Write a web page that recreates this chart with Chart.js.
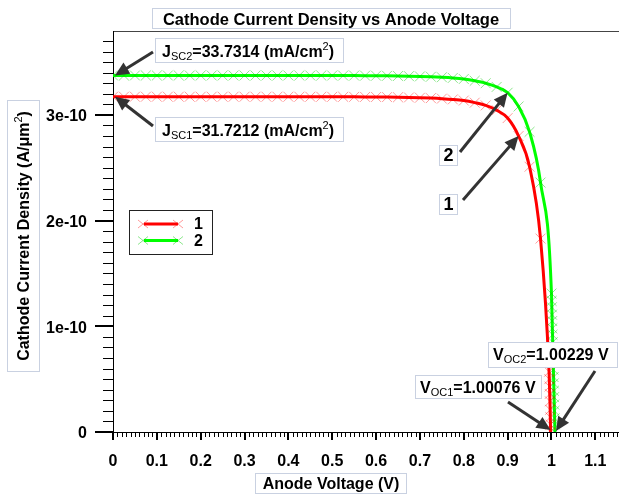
<!DOCTYPE html>
<html><head><meta charset="utf-8">
<script src="https://cdn.jsdelivr.net/npm/chart.js@4/dist/chart.umd.min.js"></script>
<style>html,body{margin:0;padding:0;background:#fff;}#wrap{width:619px;height:495px;}</style>
</head><body><div id="wrap"><canvas id="c" width="619" height="495"></canvas></div>
<script>
// ---------- data ----------
const seriesLabels = ['1', '2'];
const voltage1 = [0,0.025,0.05,0.075,0.1,0.125,0.15,0.175,0.2,0.225,0.25,0.275,0.3,0.325,0.35,0.375,0.4,0.425,0.45,0.475,0.5,0.525,0.55,0.575,0.6,0.625,0.65,0.675,0.7,0.725,0.75,0.775,0.8,0.825,0.85,0.875,0.9,0.925,0.95,0.975,
  0.9945,0.995,0.9955,0.996,0.9965,0.997,0.9973,0.9977,0.998];
const current1 = [3.1721e-10,3.1721e-10,3.1721e-10,3.1721e-10,3.1721e-10,3.1721e-10,3.1721e-10,3.1721e-10,3.1721e-10,3.1721e-10,3.1721e-10,3.1721e-10,3.1721e-10,3.1721e-10,3.1721e-10,3.1721e-10,3.1721e-10,
  3.1720e-10,3.1719e-10,3.1717e-10,3.1715e-10,3.1712e-10,3.1708e-10,3.1703e-10,3.1696e-10,3.1686e-10,3.1672e-10,3.1653e-10,3.1627e-10,3.1590e-10,3.1540e-10,3.1470e-10,3.1360e-10,3.1160e-10,3.0900e-10,3.0450e-10,2.9700e-10,2.8000e-10,2.5100e-10,1.8300e-10,
  0.57e-10,0.50e-10,0.43e-10,0.36e-10,0.29e-10,0.21e-10,0.14e-10,0.07e-10,0];
const voltage2 = [0,0.025,0.05,0.075,0.1,0.125,0.15,0.175,0.2,0.225,0.25,0.275,0.3,0.325,0.35,0.375,0.4,0.425,0.45,0.475,0.5,0.525,0.55,0.575,0.6,0.625,0.65,0.675,0.7,0.725,0.75,0.775,0.8,0.825,0.85,0.875,0.9,0.925,0.95,0.975,
  1.0,1.0004,1.0008,1.0012,1.0016,1.002,1.0024,1.0028,1.0032,1.0036,1.004,1.0044,1.0048,1.0052,1.0056,1.006,1.0064,1.0068,1.0072,1.0076,1.008];
const current2 = [3.3731e-10,3.3731e-10,3.3731e-10,3.3731e-10,3.3731e-10,3.3731e-10,3.3731e-10,3.3731e-10,3.3731e-10,3.3731e-10,3.3731e-10,3.3731e-10,3.3731e-10,3.3731e-10,3.3731e-10,3.3731e-10,3.3731e-10,
  3.3730e-10,3.3729e-10,3.3728e-10,3.3726e-10,3.3723e-10,3.3719e-10,3.3714e-10,3.3707e-10,3.3698e-10,3.3685e-10,3.3668e-10,3.3645e-10,3.3612e-10,3.3565e-10,3.3500e-10,3.3400e-10,3.3230e-10,3.3000e-10,3.2650e-10,3.2100e-10,3.0800e-10,2.8400e-10,2.3600e-10,
  1.31e-10,1.24e-10,1.18e-10,1.11e-10,1.05e-10,0.98e-10,0.92e-10,0.85e-10,0.79e-10,0.72e-10,0.66e-10,0.59e-10,0.52e-10,0.46e-10,0.39e-10,0.33e-10,0.26e-10,0.20e-10,0.13e-10,0.07e-10,0];
const xTickValues = [0,0.1,0.2,0.3,0.4,0.5,0.6,0.7,0.8,0.9,1,1.1];
const xTickLabels = ['0','0.1','0.2','0.3','0.4','0.5','0.6','0.7','0.8','0.9','1','1.1'];
const yTickValues = [0,1e-10,2e-10,3e-10];
const yTickLabels = ['0','1e-10','2e-10','3e-10'];
const chartTitle = 'Cathode Current Density vs Anode Voltage';
const xTitle = 'Anode Voltage (V)';
const yTitle = 'Cathode Current Density (A/\u03bcm';
const jsc1Text = '31.7212', jsc2Text = '33.7314';
const voc1Text = '1.00076', voc2Text = '1.00229';
const pointer1V = 0.925, pointer2V = 0.9;

// ---------- drawing ----------
const FAM = '"Liberation Sans", Arial, sans-serif';
const B16 = 'bold 16px ' + FAM;
const SUB = '11px ' + FAM;
const BOXC = '#c9d1e1';

function richWidth(ctx, parts){ let w=0; for(const p of parts){ctx.font=p.f; w+=ctx.measureText(p.t).width;} return w; }
function drawRich(ctx, parts, x, y, align){
  let w = richWidth(ctx, parts);
  let cx = align==='center' ? x - w/2 : x;
  ctx.textBaseline='alphabetic'; ctx.textAlign='left'; ctx.fillStyle='#000';
  for(const p of parts){ ctx.font=p.f; ctx.fillText(p.t, cx, y + (p.dy||0)); cx += ctx.measureText(p.t).width; }
}
function box(ctx, x1,y1,x2,y2, stroke){
  ctx.fillStyle='#fff'; ctx.fillRect(x1,y1,x2-x1,y2-y1);
  ctx.strokeStyle=stroke||BOXC; ctx.lineWidth=1; ctx.strokeRect(x1+0.5,y1+0.5,x2-x1-1,y2-y1-1);
  ctx.fillStyle='#000';
}
function arrow(ctx, x1,y1,x2,y2){
  const ang=Math.atan2(y2-y1,x2-x1), L=14, H=6.5;
  const bx=x2-L*Math.cos(ang), by=y2-L*Math.sin(ang);
  ctx.strokeStyle='#333'; ctx.fillStyle='#333'; ctx.lineWidth=3; ctx.lineCap='butt';
  ctx.beginPath(); ctx.moveTo(x1,y1); ctx.lineTo(bx+2*Math.cos(ang),by+2*Math.sin(ang)); ctx.stroke();
  ctx.beginPath(); ctx.moveTo(x2,y2);
  ctx.lineTo(bx+H*Math.sin(ang), by-H*Math.cos(ang));
  ctx.lineTo(bx-H*Math.sin(ang), by+H*Math.cos(ang));
  ctx.closePath(); ctx.fill();
}
function line(ctx,x1,y1,x2,y2){ctx.beginPath();ctx.moveTo(x1,y1);ctx.lineTo(x2,y2);ctx.stroke();}
function crossMark(ctx,x,y,color){
  ctx.strokeStyle=color; ctx.lineWidth=1;
  line(ctx,x-5,y-4,x+5,y+4); line(ctx,x-5,y+4,x+5,y-4);
}

const deco = {
  id:'deco',
  beforeDatasetsDraw(chart){
    const {ctx, chartArea:a, scales:{x,y}} = chart;
    ctx.save();
    ctx.strokeStyle='#444'; ctx.lineWidth=1;
    line(ctx,a.left,a.top+0.5,a.right,a.top+0.5);
    ctx.strokeStyle='#000';
    line(ctx,a.left+0.5,a.top,a.left+0.5,a.bottom+1);
    line(ctx,a.left-1,a.bottom+0.5,a.right,a.bottom+0.5);
    for(let k=0;k*1e-11<=y.max;k++){
      const py=Math.round(y.getPixelForValue(k*1e-11));
      const major=k%10===0;
      ctx.lineWidth=major?2:1;
      line(ctx,a.left-(major?18:10),py+(major?0:0.5),a.left,py+(major?0:0.5));
    }
    for(let k=0;k*0.01<=x.max;k++){
      const px=Math.round(x.getPixelForValue(k*0.01));
      const major=k%10===0;
      ctx.lineWidth=major?2:1;
      line(ctx,px+(major?0:0.5),a.bottom,px+(major?0:0.5),a.bottom+(major?8:5));
    }
    ctx.restore();
  },
  afterDatasetsDraw(chart){
    const {ctx, scales:{x,y}} = chart;
    ctx.save();
    // title
    box(ctx,152,8,511,29);
    ctx.font='bold 16.5px '+FAM; ctx.fillStyle='#000'; ctx.textAlign='center'; ctx.textBaseline='alphabetic';
    ctx.fillText(chartTitle,331,25);
    // x title
    box(ctx,255,473,407,494);
    ctx.font=B16; ctx.fillStyle='#000'; ctx.textAlign='center'; ctx.fillText(xTitle,331,489);
    // y title rotated
    ctx.save(); ctx.translate(23,236); ctx.rotate(-Math.PI/2);
    const yParts=[{t:yTitle,f:B16},{t:'2',f:SUB,dy:-7},{t:')',f:B16}];
    box(ctx,-136,-16,136,17);
    drawRich(ctx,yParts,0,6,'center');
    ctx.restore();

    // Jsc annotations
    const pJ2={x:x.getPixelForValue(voltage2[0])+2,y:y.getPixelForValue(current2[0])};
    const pJ1={x:x.getPixelForValue(voltage1[0])+2,y:y.getPixelForValue(current1[0])};
    box(ctx,155,38,344,63);
    drawRich(ctx,[{t:'J',f:B16},{t:'SC2',f:SUB,dy:3},{t:'='+jsc2Text+' (mA/cm',f:B16},{t:'2',f:SUB,dy:-7},{t:')',f:B16}],162,57);
    arrow(ctx,153,52,pJ2.x,pJ2.y);
    box(ctx,155,117,344,142);
    drawRich(ctx,[{t:'J',f:B16},{t:'SC1',f:SUB,dy:3},{t:'='+jsc1Text+' (mA/cm',f:B16},{t:'2',f:SUB,dy:-7},{t:')',f:B16}],162,136);
    arrow(ctx,153,126,pJ1.x,pJ1.y);

    // curve pointers
    const i2=voltage2.indexOf(pointer2V), i1=voltage1.indexOf(pointer1V);
    arrow(ctx,460,152,x.getPixelForValue(voltage2[i2]),y.getPixelForValue(current2[i2]));
    arrow(ctx,463,200,x.getPixelForValue(voltage1[i1]),y.getPixelForValue(current1[i1]));
    box(ctx,439,145,458,166);
    ctx.font='bold 18px '+FAM; ctx.fillStyle='#000'; ctx.textAlign='center'; ctx.fillText('2',448.5,161);
    box(ctx,439,194,458,215);
    ctx.fillStyle='#000'; ctx.textAlign='center'; ctx.fillText('1',448.5,210);

    // Voc annotations
    const n2=voltage2.length-1, n1=voltage1.length-1;
    box(ctx,488,342,618,368);
    drawRich(ctx,[{t:'V',f:B16},{t:'OC2',f:SUB,dy:3},{t:'='+voc2Text+' V',f:B16}],493,360);
    arrow(ctx,595,371,x.getPixelForValue(voltage2[n2])+1,y.getPixelForValue(current2[n2])-1);
    box(ctx,415,375,542,399);
    drawRich(ctx,[{t:'V',f:B16},{t:'OC1',f:SUB,dy:3},{t:'='+voc1Text+' V',f:B16}],420,393);
    arrow(ctx,508,402,x.getPixelForValue(voltage1[n1]),y.getPixelForValue(current1[n1])-2);

    // legend
    box(ctx,129,210,213,255,'#222');
    const ds=chart.data.datasets;
    [[ds[0],224,229],[ds[1],240.5,246]].forEach(([d,ly,ty])=>{
      ctx.strokeStyle=d.borderColor; ctx.lineWidth=3; line(ctx,144,ly,178,ly);
      crossMark(ctx,143,ly,d.pointBorderColor); crossMark(ctx,178,ly,d.pointBorderColor);
      ctx.font=B16; ctx.fillStyle='#000'; ctx.textAlign='left'; ctx.fillText(d.label,194,ty);
    });
    ctx.restore();
  }
};

Chart.defaults.font.family = FAM;
new Chart(document.getElementById('c'), {
  type:'line',
  data:{datasets:[
    {label:seriesLabels[0], data:voltage1.map((v,i)=>({x:v,y:current1[i]})), borderColor:'#ff0000', borderWidth:3,
     pointStyle:'crossRot', pointRadius:7, pointBorderWidth:1, pointBorderColor:'rgba(255,0,0,0.4)', pointBackgroundColor:'rgba(0,0,0,0)', cubicInterpolationMode:'monotone'},
    {label:seriesLabels[1], data:voltage2.map((v,i)=>({x:v,y:current2[i]})), borderColor:'#00ff00', borderWidth:3,
     pointStyle:'crossRot', pointRadius:7, pointBorderWidth:1, pointBorderColor:'rgba(0,200,0,0.45)', pointBackgroundColor:'rgba(0,0,0,0)', cubicInterpolationMode:'monotone'}
  ]},
  options:{
    responsive:false, animation:false, devicePixelRatio:1,
    layout:{autoPadding:false, padding:{top:31,left:0,right:0,bottom:0}},
    plugins:{legend:{display:false}, tooltip:{enabled:false}, title:{display:false}},
    scales:{
      x:{type:'linear', min:0, max:1.154,
         grid:{display:false, drawTicks:false}, border:{display:false},
         afterBuildTicks:s=>{s.ticks=xTickValues.map(v=>({value:v}));},
         afterFit:s=>{s.height=63; s.paddingLeft=0; s.paddingRight=0;},
         ticks:{autoSkip:false, maxRotation:0, padding:20, color:'#000', font:{size:16, weight:'bold'},
           callback:(v)=>{const i=xTickValues.findIndex(t=>Math.abs(t-v)<1e-9); return i>=0?xTickLabels[i]:'';}}},
      y:{type:'linear', min:0, max:3.794e-10,
         grid:{display:false, drawTicks:false}, border:{display:false},
         afterBuildTicks:s=>{s.ticks=yTickValues.map(v=>({value:v}));},
         afterFit:s=>{s.width=113; s.paddingTop=0; s.paddingBottom=0;},
         ticks:{padding:26, labelOffset:2, color:'#000', font:{size:16, weight:'bold'},
           callback:(v)=>{const i=yTickValues.findIndex(t=>Math.abs(t-v)<1e-16); return i>=0?yTickLabels[i]:'';}}}
    }
  },
  plugins:[deco]
});
</script></body></html>
